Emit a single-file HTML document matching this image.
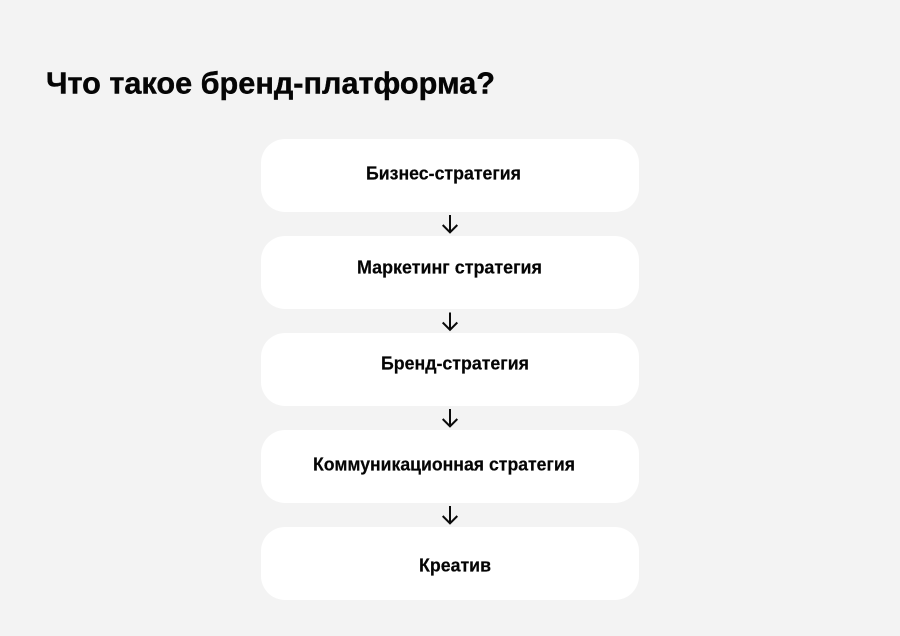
<!DOCTYPE html>
<html lang="ru">
<head>
<meta charset="utf-8">
<style>
html,body{margin:0;padding:0;background:#f3f3f3;width:900px;height:636px;overflow:hidden}
svg{display:block}
text{font-family:"Liberation Sans",sans-serif;font-weight:700;fill:#050505;stroke:#050505}
</style>
</head>
<body>
<svg width="900" height="636" viewBox="0 0 900 636" xmlns="http://www.w3.org/2000/svg">
<rect width="900" height="636" fill="#f3f3f3"/>
<text x="46" y="93.500" font-size="31" stroke-width="0.4" textLength="449" lengthAdjust="spacingAndGlyphs">Что такое бренд-платформа?</text>
<g fill="#fff">
<rect x="261" y="139" width="378" height="73" rx="24"/>
<rect x="261" y="236" width="378" height="73" rx="24"/>
<rect x="261" y="333" width="378" height="73" rx="24"/>
<rect x="261" y="430" width="378" height="73" rx="24"/>
<rect x="261" y="527" width="378" height="73" rx="24"/>
</g>
<g font-size="18" stroke-width="0.2">
<text x="366" y="179.500" textLength="155" lengthAdjust="spacingAndGlyphs">Бизнес-стратегия</text>
<text x="357" y="273.500" textLength="185" lengthAdjust="spacingAndGlyphs">Маркетинг стратегия</text>
<text x="381" y="369.500" textLength="148" lengthAdjust="spacingAndGlyphs">Бренд-стратегия</text>
<text x="313" y="470.500" textLength="262" lengthAdjust="spacingAndGlyphs">Коммуникационная стратегия</text>
<text x="419" y="571.500" textLength="72" lengthAdjust="spacingAndGlyphs">Креатив</text>
</g>
<g fill="none" stroke="#0a0a0a" stroke-width="2">
<path d="M450 215V232.500M442.700 225l7.300 7.300 7.300-7.300"/>
<path d="M450 312.500V330M442.700 322.500l7.300 7.300 7.300-7.300"/>
<path d="M450 409V426.500M442.700 419l7.300 7.300 7.300-7.300"/>
<path d="M450 506V523.500M442.700 516l7.300 7.300 7.300-7.300"/>
</g>
</svg>
</body>
</html>
